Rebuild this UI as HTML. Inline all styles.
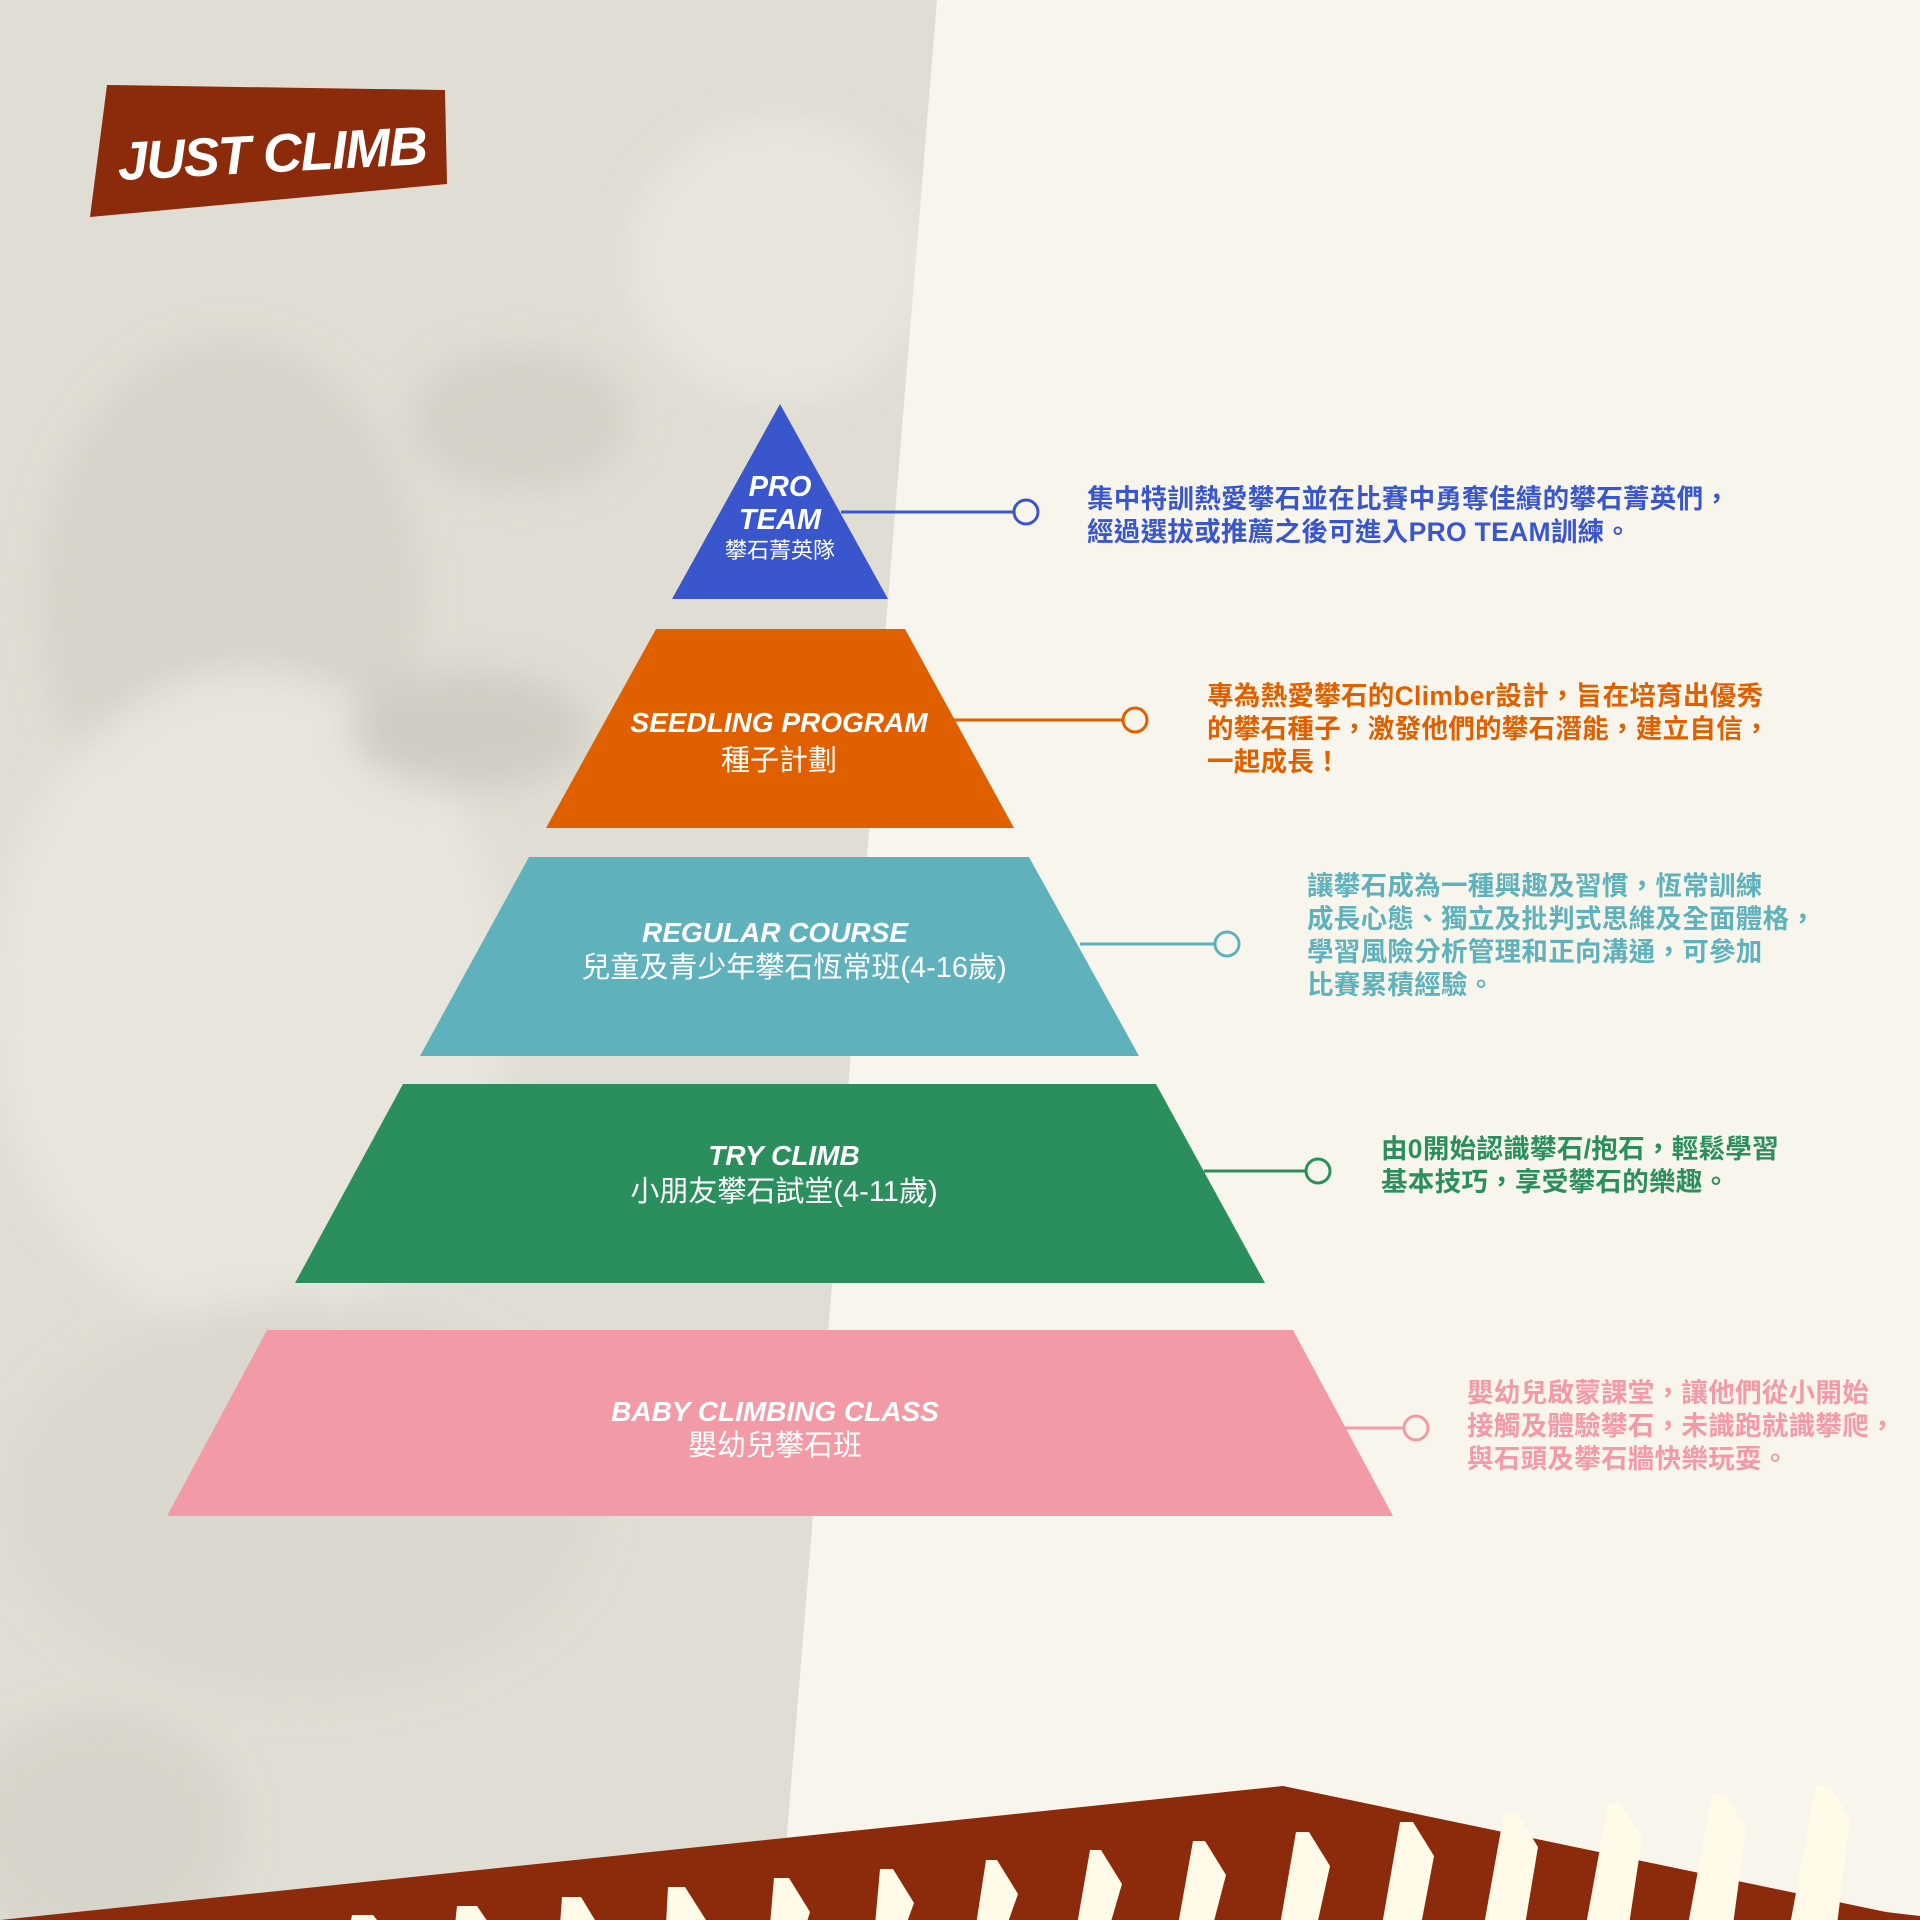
<!DOCTYPE html>
<html><head><meta charset="utf-8"><style>
html,body{margin:0;padding:0}
body{width:1920px;height:1920px;position:relative;overflow:hidden;background:#f8f6ec;font-family:"Liberation Sans","Noto Sans CJK TC",sans-serif}
svg{position:absolute;left:0;top:0}
.d{position:absolute;font-family:"Liberation Sans","Noto Sans CJK TC",sans-serif;font-size:26.5px;line-height:33px;font-weight:700;letter-spacing:0.3px;white-space:nowrap}
</style></head><body>
<svg width="1920" height="1920" viewBox="0 0 1920 1920">
<defs><filter id="bl"><feGaussianBlur stdDeviation="18"/></filter>
<clipPath id="ph"><polygon points="0,0 937,0 780,1920 0,1920"/></clipPath></defs>
<g clip-path="url(#ph)">
<rect width="1920" height="1920" fill="#e0ded4"/>
<g filter="url(#bl)" opacity="0.7">
<ellipse cx="780" cy="260" rx="150" ry="140" fill="#ebe9e1"/>
<ellipse cx="230" cy="600" rx="190" ry="260" fill="#d2d0c6"/>
<ellipse cx="250" cy="1000" rx="260" ry="330" fill="#ebe9e0"/>
<ellipse cx="520" cy="420" rx="110" ry="70" fill="#cfcdc3"/>
<ellipse cx="470" cy="730" rx="120" ry="60" fill="#c9c7bd"/>
<ellipse cx="300" cy="1500" rx="300" ry="200" fill="#d9d7cd"/>
<ellipse cx="100" cy="1830" rx="140" ry="120" fill="#d4d2c8"/>
</g>
</g>
<polygon points="107,85 445,90 447,184 90,217" fill="#8c2a0c"/>
<text x="272" y="172" text-anchor="middle" font-family="Liberation Sans" font-weight="700" font-style="italic" font-size="54" fill="#fff" transform="rotate(-3 272 155)" letter-spacing="-1.5">JUST CLIMB</text>

<polygon points="780,404 888,599 672,599" fill="#3a56cc"/>
<polygon points="656,629 905,629 1014,828 546,828" fill="#e06000"/>
<polygon points="529,857 1029,857 1139,1056 420,1056" fill="#5fb2bc"/>
<polygon points="403,1084 1156,1084 1265,1283 295,1283" fill="#2a8f5c"/>
<polygon points="267,1330 1293,1330 1393,1516 167,1516" fill="#f29ba6"/>

<g stroke-width="3" fill="none">
<line x1="841" y1="512" x2="1014" y2="512" stroke="#3a56cc"/><circle cx="1026" cy="512" r="12" stroke="#3a56cc"/>
<line x1="954" y1="720" x2="1123" y2="720" stroke="#e06000"/><circle cx="1135" cy="720" r="12" stroke="#e06000"/>
<line x1="1080" y1="944" x2="1215" y2="944" stroke="#5fb2bc"/><circle cx="1227" cy="944" r="12" stroke="#5fb2bc"/>
<line x1="1204" y1="1171" x2="1306" y2="1171" stroke="#2a8f5c"/><circle cx="1318" cy="1171" r="12" stroke="#2a8f5c"/>
<line x1="1345" y1="1428" x2="1404" y2="1428" stroke="#f29ba6"/><circle cx="1416" cy="1428" r="12" stroke="#f29ba6"/>
</g>

<g fill="#fff" text-anchor="middle" font-family="Liberation Sans, Noto Sans CJK TC, sans-serif">
<g font-weight="700" font-style="italic">
<text x="780" y="496" font-size="29">PRO</text>
<text x="780" y="529" font-size="29">TEAM</text>
<text x="779" y="732" font-size="28">SEEDLING PROGRAM</text>
<text x="775" y="942" font-size="28">REGULAR COURSE</text>
<text x="784" y="1165" font-size="28">TRY CLIMB</text>
<text x="775" y="1421" font-size="28">BABY CLIMBING CLASS</text>
</g>
<text x="780" y="558" font-size="22">攀石菁英隊</text>
<text x="779" y="770" font-size="29">種子計劃</text>
<text x="794" y="977" font-size="29">兒童及青少年攀石恆常班(4-16歲)</text>
<text x="784" y="1201" font-size="29">小朋友攀石試堂(4-11歲)</text>
<text x="775" y="1455" font-size="29">嬰幼兒攀石班</text>
</g>

<polygon points="0,1920 1283,1786 1886,1912 1920,1916 1920,1920" fill="#8c2a0c"/>
</svg>
<div class="d" style="left:1087px;top:483px;color:#3a56cc">集中特訓熱愛攀石並在比賽中勇奪佳績的攀石菁英們，<br>經過選拔或推薦之後可進入PRO TEAM訓練。</div>
<div class="d" style="left:1207px;top:680px;color:#e06000">專為熱愛攀石的Climber設計，旨在培育出優秀<br>的攀石種子，激發他們的攀石潛能，建立自信，<br>一起成長！</div>
<div class="d" style="left:1307px;top:870px;color:#5fb2bc">讓攀石成為一種興趣及習慣，恆常訓練<br>成長心態、獨立及批判式思維及全面體格，<br>學習風險分析管理和正向溝通，可參加<br>比賽累積經驗。</div>
<div class="d" style="left:1381px;top:1133px;color:#2a8f5c">由0開始認識攀石/抱石，輕鬆學習<br>基本技巧，享受攀石的樂趣。</div>
<div class="d" style="left:1467px;top:1377px;color:#f29ba6">嬰幼兒啟蒙課堂，讓他們從小開始<br>接觸及體驗攀石，未識跑就識攀爬，<br>與石頭及攀石牆快樂玩耍。</div>
<svg width="1920" height="1920" viewBox="0 0 1920 1920">
<g fill="#fffbe8">
<polygon points="373,1915 381,1925 350,1925 352,1915"/>
<polygon points="477,1906 490,1925 455,1925 457,1906"/>
<polygon points="581,1897 598,1925 560,1925 562,1897"/>
<polygon points="685,1887 706,1920 705,1925 666,1925 668,1887"/>
<polygon points="789,1878 810,1912 806,1925 770,1925 774,1878"/>
<polygon points="893,1869 914,1903 906,1925 875,1925 880,1869"/>
<polygon points="997,1860 1018,1894 1007,1925 976,1925 986,1860"/>
<polygon points="1101,1850 1122,1884 1110,1925 1077,1925 1090,1850"/>
<polygon points="1205,1841 1226,1875 1213,1925 1178,1925 1193,1841"/>
<polygon points="1309,1832 1330,1866 1317,1925 1280,1925 1296,1832"/>
<polygon points="1413,1822 1434,1856 1421,1925 1382,1925 1400,1822"/>
<polygon points="1517,1813 1538,1847 1525,1925 1484,1925 1504,1813"/>
<polygon points="1621,1804 1642,1838 1629,1925 1586,1925 1608,1804"/>
<polygon points="1725,1794 1746,1828 1733,1925 1688,1925 1712,1794"/>
<polygon points="1829,1785 1850,1819 1837,1925 1790,1925 1816,1785"/>
</g>
</svg>
</body></html>
